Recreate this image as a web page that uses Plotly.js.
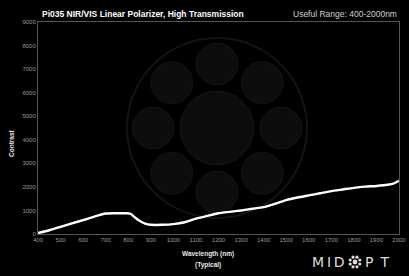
<!DOCTYPE html>
<html><head><meta charset="utf-8">
<script src="https://cdn.plot.ly/plotly-3.0.1.min.js"></script>
<style>html,body{margin:0;padding:0;background:#000;}#chart{width:409px;height:276px;}</style>
</head><body><div id="chart"></div>
<script>
const wavelength = [400,450,500,550,600,650,700,750,790,810,830,850,875,900,950,1000,1050,1100,1150,1200,1250,1300,1350,1400,1450,1500,1550,1600,1650,1700,1750,1800,1850,1900,1950,1975,2000];
const contrast   = [40,160,300,450,590,740,870,880,880,860,700,560,440,390,390,420,500,650,770,880,940,1000,1070,1140,1280,1440,1550,1640,1730,1820,1890,1960,2010,2040,2090,2140,2260];
const xTicks = [400,500,600,700,800,900,1000,1100,1200,1300,1400,1500,1600,1700,1800,1900,2000];
const yTicks = [0,1000,2000,3000,4000,5000,6000,7000,8000,9000];

const L = 38, R = 10, T = 22, B = 42, W = 409, H = 276;
const pw = W - L - R, ph = H - T - B;
function px(x){ return (x - L) / pw; }
function py(y){ return (H - B - y) / ph; }

const shapes = [];
function circ(cx, cy, r, fill, line, lw){
  shapes.push({type:'circle', xref:'paper', yref:'paper', xsizemode:'pixel', ysizemode:'pixel',
    xanchor:px(cx), yanchor:py(cy), x0:-r, x1:r, y0:-r, y1:r,
    fillcolor:fill, line:{color:line, width:lw}, layer:'below'});
}
// watermark
const wcx = 217, wcy = 128;
circ(wcx, wcy, 90, 'rgba(0,0,0,0)', 'rgb(20,20,20)', 2);
circ(wcx, wcy, 37, 'rgb(13,13,13)', 'rgb(20,20,20)', 1);
for (let i = 0; i < 8; i++){
  const a = i * Math.PI / 4;
  circ(wcx + 64*Math.sin(a), wcy - 64*Math.cos(a), 21, 'rgb(13,13,13)', 'rgb(20,20,20)', 1);
}
// logo symbol
const lcx = 355, lcy = 262;
circ(lcx, lcy, 2.4, '#dcdcdc', '#dcdcdc', 0);
for (let i = 0; i < 8; i++){
  const a = i * Math.PI / 4 + Math.PI/8;
  circ(lcx + 5.2*Math.sin(a), lcy - 5.2*Math.cos(a), 1.6, '#dcdcdc', '#dcdcdc', 0);
}

const sp = '\u2009';
const annotations = [
  {text:'<b>Pi035 NIR/VIS Linear Polarizer, High Transmission</b>', xref:'paper', yref:'paper', x:px(40), y:py(14), xanchor:'left', yanchor:'middle', showarrow:false, font:{family:'Liberation Sans, Arial, sans-serif', size:8.5, color:'#ffffff'}},
  {text:'Useful Range: 400-2000nm', xref:'paper', yref:'paper', x:px(399), y:py(14), xanchor:'right', yanchor:'middle', showarrow:false, font:{family:'Liberation Sans, Arial, sans-serif', size:8.5, color:'#d0d0d0'}},
  {text:'<b>Wavelength (nm)</b>', xref:'paper', yref:'paper', x:px(208), y:py(254), xanchor:'center', yanchor:'middle', showarrow:false, font:{family:'Liberation Sans, Arial, sans-serif', size:6.5, color:'#e8e8e8'}},
  {text:'<b>(Typical)</b>', xref:'paper', yref:'paper', x:px(208), y:py(265), xanchor:'center', yanchor:'middle', showarrow:false, font:{family:'Liberation Sans, Arial, sans-serif', size:6.5, color:'#e8e8e8'}},
  {text:'<b>Contrast</b>', xref:'paper', yref:'paper', x:px(11), y:py(143), xanchor:'center', yanchor:'middle', textangle:-90, showarrow:false, font:{family:'Liberation Sans, Arial, sans-serif', size:6.5, color:'#e8e8e8'}},
  {text:'M'+sp+'I'+sp+'D', xref:'paper', yref:'paper', x:px(347), y:py(262), xanchor:'right', yanchor:'middle', showarrow:false, font:{family:'DejaVu Sans, sans-serif', size:14, color:'#dcdcdc'}},
  {text:'P\u2002T', xref:'paper', yref:'paper', x:px(363), y:py(262), xanchor:'left', yanchor:'middle', showarrow:false, font:{family:'DejaVu Sans, sans-serif', size:14, color:'#dcdcdc'}}
];

const data = [{x:wavelength, y:contrast, type:'scatter', mode:'lines', line:{color:'#ffffff', width:2.4, shape:'spline', smoothing:0.6}, hoverinfo:'skip'}];

const layout = {
  width:W, height:H, margin:{l:L, r:R, t:T, b:B, pad:0},
  paper_bgcolor:'#000000', plot_bgcolor:'#000000', showlegend:false,
  xaxis:{range:[400,2000], tickvals:xTicks, ticktext:xTicks.map(String), showgrid:false, zeroline:false,
    showline:true, mirror:true, linecolor:'#555555', linewidth:1, ticks:'', ticklen:0,
    tickfont:{family:'Liberation Sans, Arial, sans-serif', size:6, color:'#9a9a9a'}, fixedrange:true},
  yaxis:{range:[0,9000], tickvals:yTicks, ticktext:yTicks.map(String), showgrid:false, zeroline:false,
    showline:true, mirror:true, linecolor:'#555555', linewidth:1, ticks:'', ticklen:0,
    tickfont:{family:'Liberation Sans, Arial, sans-serif', size:6, color:'#9a9a9a'}, fixedrange:true},
  shapes:shapes, annotations:annotations
};
Plotly.newPlot('chart', data, layout, {displayModeBar:false, staticPlot:true});
</script></body></html>
